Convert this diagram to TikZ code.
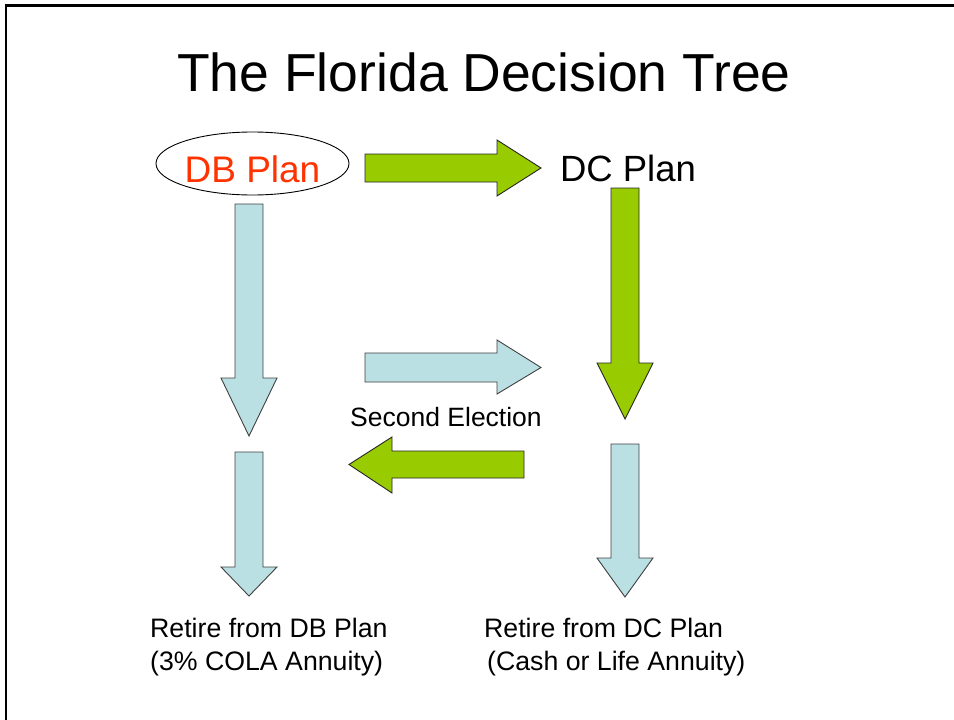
\documentclass[tikz,border=0pt]{standalone}
\usepackage{fontspec}
\setmainfont{Liberation Sans}
\usetikzlibrary{shapes.geometric}

\definecolor{leafgreen}{HTML}{99CC00}
\definecolor{paleblue}{HTML}{BBE0E3}
\definecolor{planred}{HTML}{FF3300}

\tikzset{
  greenarrow/.style={fill=leafgreen, draw=black!85, line width=0.9pt, line join=miter},
  bluearrow/.style={fill=paleblue, draw=black!75, line width=0.9pt, line join=miter},
  label/.style={inner sep=0pt, anchor=base west, font=\fontsize{26.7}{32}\selectfont},
  frame/.style={draw=black, line width=2.4pt}
}

% down-pointing block arrow: #1 style, #2 shaft left, #3 shaft right, #4 top,
% #5 head base, #6 head left, #7 head right, #8 tip
\newcommand\downblock[8]{%
  \path[#1] (#2,#4) -- (#3,#4) -- (#3,#5) -- (#7,#5) -- ({(#2+#3)/2},#8)
    -- (#6,#5) -- (#2,#5) -- cycle;}
% horizontal block arrow: #1 style, #2 tail x, #3 head base x, #4 tip x,
% #5 shaft top, #6 shaft bottom, #7 head top, #8 head bottom
\newcommand\sideblock[8]{%
  \path[#1] (#2,#5) -- (#3,#5) -- (#3,#7) -- (#4,{(#5+#6)/2}) -- (#3,#8)
    -- (#3,#6) -- (#2,#6) -- cycle;}

\begin{document}
\begin{tikzpicture}[x=1pt,y=-1pt]
  \useasboundingbox[fill=white] (0,0) rectangle (954,720);

  % slide frame
  \draw[frame] (6.2,720) -- (6.2,5.5) -- (954,5.5);

  % title
  \node[inner sep=0pt, anchor=base, font=\fontsize{53.5}{64}\selectfont]
    (title) at (484,91) {The Florida Decision Tree};

  % plan names
  \node[ellipse, draw=black, line width=0.9pt, fill=white,
        minimum width=193pt, minimum height=63pt, inner sep=0pt]
    (dbring) at (252.5,163.5) {};
  \node[inner sep=0pt, anchor=base, text=planred,
        font=\fontsize{37}{44}\selectfont] (db) at (252.5,182) {DB Plan};
  \node[inner sep=0pt, anchor=base, font=\fontsize{36.5}{44}\selectfont]
    (dc) at (628,181) {DC Plan};

  % DB -> DC
  \sideblock{greenarrow}{365}{497}{541}{154}{182}{140}{196}

  % left column
  \downblock{bluearrow}{235}{263}{204}{378}{221}{277}{436}
  \downblock{bluearrow}{235}{263}{452}{567}{221}{277}{596}

  % right column
  \downblock{greenarrow}{611}{639}{188}{363}{597}{653}{419}
  \downblock{bluearrow}{611}{639}{444}{558}{597}{653}{597}

  % second election
  \sideblock{bluearrow}{365}{497}{541}{353}{382}{340}{394}
  \node[inner sep=0pt, anchor=base, font=\fontsize{26.5}{32}\selectfont]
    (second) at (446,426) {Second Election};
  \sideblock{greenarrow}{524}{392}{349}{451}{478}{437}{493}

  % retirement outcomes
  \node[label] (dbout1) at (150,637) {Retire from DB Plan};
  \node[label] (dbout2) at (150,670) {(3\% COLA Annuity)};
  \node[label] (dcout1) at (484,637) {Retire from DC Plan};
  \node[label] (dcout2) at (487,670) {(Cash or Life Annuity)};
\end{tikzpicture}
\end{document}
